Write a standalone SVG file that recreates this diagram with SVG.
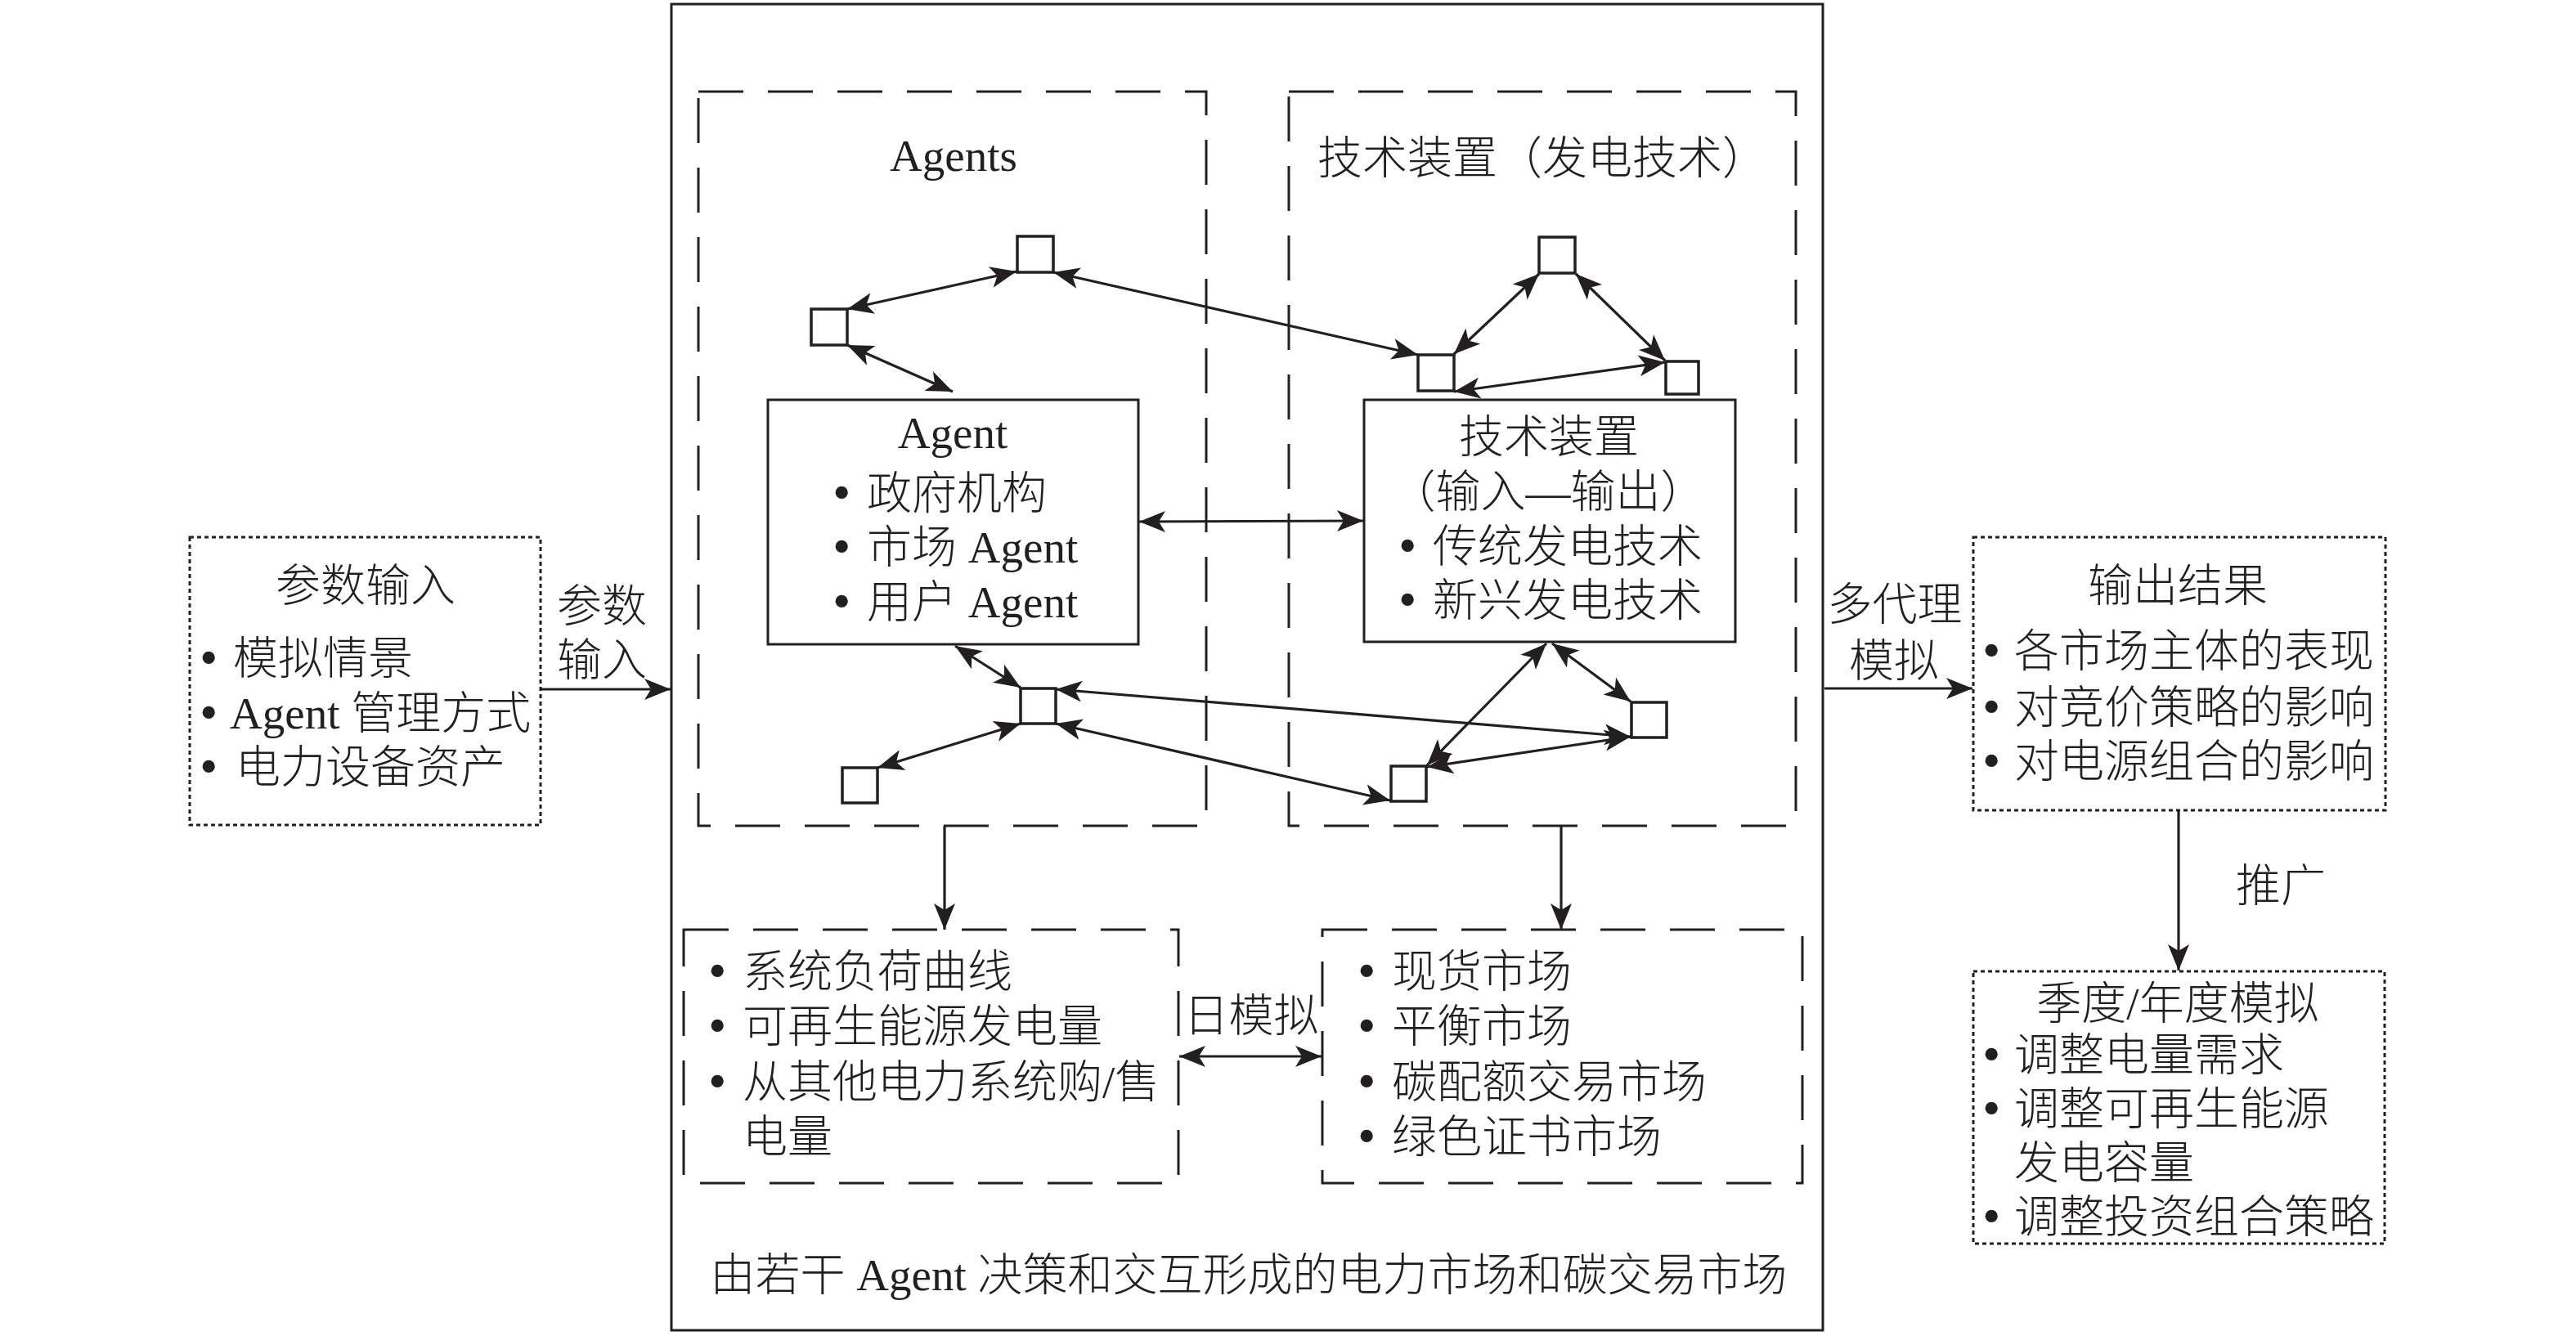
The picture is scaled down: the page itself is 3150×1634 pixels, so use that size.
<svg xmlns="http://www.w3.org/2000/svg" width="3150" height="1634" viewBox="0 0 3150 1634">
<style>
text{font-family:"Liberation Serif","Noto Sans CJK SC",serif;font-size:55px;fill:#231f20;font-weight:300}
.mid{text-anchor:middle}
.b{font-size:64px}
.solid{fill:none;stroke:#231f20;stroke-width:3}
.sq{fill:#fff;stroke:#231f20;stroke-width:3.5}
.dash{fill:none;stroke:#231f20;stroke-width:3;stroke-dasharray:55 30}
.dot{fill:none;stroke:#231f20;stroke-width:3;stroke-dasharray:5 4}
.c{stroke:#231f20;stroke-width:3.2;fill:none;marker-end:url(#ah)}
.d{stroke:#231f20;stroke-width:3.2;fill:none;marker-end:url(#ah);marker-start:url(#ah)}
</style>
<defs>
<marker id="ah" markerUnits="userSpaceOnUse" markerWidth="34" markerHeight="28" viewBox="0 0 34 28" refX="33" refY="14" orient="auto-start-reverse">
<path d="M1,1 L33,14 L1,27 L9,14 Z" fill="#231f20"/>
</marker>
</defs>
<rect width="3150" height="1634" fill="#fff"/>

<g id="outer-box"><rect class="solid" x="821" y="5" width="1408" height="1622"/>
<text class="mid" x="1527" y="1578">由若干 Agent 决策和交互形成的电力市场和碳交易市场</text></g>

<g id="agents-group"><rect class="dash" x="854" y="112" width="621" height="898"/>
<text class="mid" x="1166" y="209">Agents</text></g>

<g id="tech-group"><rect class="dash" x="1576" y="112" width="620" height="898"/>
<text x="1611" y="212">技术装置（发电技术）</text></g>

<g id="agent-box"><rect class="solid" x="939" y="489" width="453" height="299" fill="#fff"/>
<text class="mid" x="1165" y="548">Agent</text>
<text x="1018" y="624"><tspan class="b">•</tspan><tspan x="1060" y="622">政府机构</tspan></text>
<text x="1018" y="690"><tspan class="b">•</tspan><tspan x="1060" y="688">市场 Agent</tspan></text>
<text x="1018" y="757"><tspan class="b">•</tspan><tspan x="1060" y="755">用户 Agent</tspan></text></g>

<g id="tech-box"><rect class="solid" x="1668" y="489" width="454" height="296" fill="#fff"/>
<text class="mid" x="1894" y="553">技术装置</text>
<text class="mid" x="1893" y="620">（输入—输出）</text>
<text x="1710" y="689"><tspan class="b">•</tspan><tspan x="1752" y="687">传统发电技术</tspan></text>
<text x="1710" y="755"><tspan class="b">•</tspan><tspan x="1752" y="753">新兴发电技术</tspan></text></g>

<g id="s1"><rect class="sq" x="992" y="378" width="44" height="44"/></g>
<g id="s2"><rect class="sq" x="1244" y="289" width="44" height="44"/></g>
<g id="s3"><rect class="sq" x="1882" y="290" width="44" height="44"/></g>
<g id="s4"><rect class="sq" x="1734" y="434" width="44" height="44"/></g>
<g id="s5"><rect class="sq" x="2037" y="442" width="40" height="40"/></g>
<g id="s6"><rect class="sq" x="1248" y="842" width="43" height="43"/></g>
<g id="s7"><rect class="sq" x="1030" y="939" width="43" height="43"/></g>
<g id="s8"><rect class="sq" x="1701" y="937" width="43" height="43"/></g>
<g id="s9"><rect class="sq" x="1995" y="859" width="43" height="43"/></g>

<g id="input-box"><rect class="dot" x="232" y="657" width="429" height="352"/>
<text class="mid" x="447" y="735">参数输入</text>
<text x="244" y="826"><tspan class="b">•</tspan><tspan x="285" y="824">模拟情景</tspan></text>
<text x="244" y="893"><tspan class="b">•</tspan><tspan x="281" y="891">Agent 管理方式</tspan></text>
<text x="244" y="959"><tspan class="b">•</tspan><tspan x="288" y="957">电力设备资产</tspan></text></g>

<g id="daily-left"><rect class="dash" x="836" y="1137" width="605" height="310"/>
<text x="866" y="1209"><tspan class="b">•</tspan><tspan x="908" y="1207">系统负荷曲线</tspan></text>
<text x="866" y="1276"><tspan class="b">•</tspan><tspan x="908" y="1274">可再生能源发电量</tspan></text>
<text x="866" y="1344"><tspan class="b">•</tspan><tspan x="908" y="1342">从其他电力系统购/售</tspan></text>
<text x="908" y="1409">电量</text></g>

<g id="daily-right"><rect class="dash" x="1617" y="1137" width="587" height="310"/>
<text x="1660" y="1209"><tspan class="b">•</tspan><tspan x="1702" y="1207">现货市场</tspan></text>
<text x="1660" y="1276"><tspan class="b">•</tspan><tspan x="1702" y="1274">平衡市场</tspan></text>
<text x="1660" y="1344"><tspan class="b">•</tspan><tspan x="1702" y="1342">碳配额交易市场</tspan></text>
<text x="1660" y="1411"><tspan class="b">•</tspan><tspan x="1702" y="1409">绿色证书市场</tspan></text></g>

<g id="output-box"><rect class="dot" x="2413" y="657" width="504" height="334"/>
<text class="mid" x="2663" y="735">输出结果</text>
<text x="2424" y="817"><tspan class="b">•</tspan><tspan x="2463" y="815">各市场主体的表现</tspan></text>
<text x="2424" y="886"><tspan class="b">•</tspan><tspan x="2463" y="884">对竞价策略的影响</tspan></text>
<text x="2424" y="952"><tspan class="b">•</tspan><tspan x="2463" y="950">对电源组合的影响</tspan></text></g>

<g id="season-box"><rect class="dot" x="2413" y="1188" width="503" height="333"/>
<text class="mid" x="2663" y="1246">季度/年度模拟</text>
<text x="2424" y="1311"><tspan class="b">•</tspan><tspan x="2463" y="1309">调整电量需求</tspan></text>
<text x="2424" y="1377"><tspan class="b">•</tspan><tspan x="2463" y="1375">调整可再生能源</tspan></text>
<text x="2463" y="1441">发电容量</text>
<text x="2424" y="1509"><tspan class="b">•</tspan><tspan x="2463" y="1507">调整投资组合策略</tspan></text></g>

<g id="connectors">
<line class="d" x1="1036" y1="378" x2="1243" y2="332"/>
<line class="d" x1="1036" y1="422" x2="1165" y2="479"/>
<line class="d" x1="1288" y1="333" x2="1734" y2="434"/>
<line class="d" x1="1882" y1="335" x2="1778" y2="433"/>
<line class="d" x1="1927" y1="335" x2="2036" y2="441"/>
<line class="d" x1="1778" y1="479" x2="2036" y2="443"/>
<line class="d" x1="1393" y1="638" x2="1667" y2="637"/>
<line class="d" x1="1168" y1="790" x2="1248" y2="841"/>
<line class="d" x1="1248" y1="885" x2="1073" y2="939"/>
<line class="d" x1="1291" y1="843" x2="1994" y2="901"/>
<line class="d" x1="1291" y1="885" x2="1700" y2="979"/>
<line class="d" x1="1891" y1="787" x2="1745" y2="936"/>
<line class="d" x1="1898" y1="787" x2="1994" y2="858"/>
<line class="d" x1="1745" y1="938" x2="1994" y2="901"/>
<line class="c" x1="661" y1="843" x2="820" y2="843"/>
<line class="c" x1="2231" y1="842" x2="2412" y2="842"/>
<line class="c" x1="1155" y1="1010" x2="1155" y2="1137"/>
<line class="c" x1="1909" y1="1010" x2="1909" y2="1137"/>
<line class="d" x1="1442" y1="1292" x2="1616" y2="1292"/>
<line class="c" x1="2664" y1="991" x2="2664" y2="1187"/>
<text class="mid" x="736" y="760">参数</text>
<text class="mid" x="736" y="826">输入</text>
<text class="mid" x="2317" y="758">多代理</text>
<text class="mid" x="2316" y="827">模拟</text>
<text class="mid" x="1530" y="1261">日模拟</text>
<text class="mid" x="2789" y="1102">推广</text>
</g>
</svg>
